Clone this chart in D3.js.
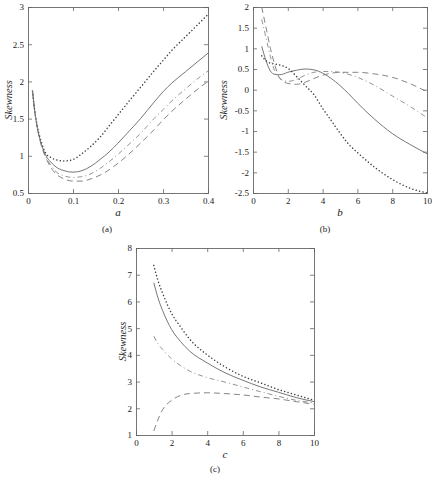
<!DOCTYPE html>
<html>
<head>
<meta charset="utf-8">
<script src="https://cdn.jsdelivr.net/npm/d3@7"></script>
<style>
body { margin: 0; background: #fff; }
svg text { font-family: "Liberation Serif", "Times New Roman", "DejaVu Serif", serif; fill: #222; }
</style>
</head>
<body>
<svg class="visSVG"></svg>
<script>
const svgWidth = 437;
const svgHeight = 477;

// panel (a)
var aX = [0.01, 0.015, 0.02, 0.03, 0.04, 0.05, 0.06, 0.08, 0.1, 0.12, 0.14, 0.16, 0.18, 0.2, 0.22, 0.25, 0.28, 0.3, 0.32, 0.35, 0.38, 0.4];
var aSolid   = [1.87, 1.6, 1.4, 1.15, 1.0, 0.92, 0.86, 0.8, 0.78, 0.8, 0.86, 0.95, 1.05, 1.17, 1.3, 1.5, 1.72, 1.86, 1.98, 2.13, 2.28, 2.38];
var aDotted  = [1.87, 1.6, 1.42, 1.18, 1.03, 0.98, 0.95, 0.93, 0.95, 1.03, 1.13, 1.25, 1.4, 1.55, 1.7, 1.92, 2.14, 2.28, 2.42, 2.6, 2.78, 2.9];
var aDashDot = [1.87, 1.6, 1.4, 1.14, 0.98, 0.88, 0.8, 0.73, 0.71, 0.72, 0.76, 0.83, 0.92, 1.02, 1.13, 1.3, 1.5, 1.62, 1.74, 1.9, 2.05, 2.14];
var aDashed  = [1.87, 1.6, 1.4, 1.13, 0.97, 0.85, 0.77, 0.69, 0.66, 0.66, 0.69, 0.74, 0.81, 0.9, 1.0, 1.17, 1.35, 1.48, 1.6, 1.76, 1.91, 2.0];
var aXTicks = [0, 0.1, 0.2, 0.3, 0.4];
var aYTicks = [0.5, 1, 1.5, 2, 2.5, 3];

// panel (b)
var bX = [0.5, 0.75, 1, 1.25, 1.5, 1.75, 2, 2.5, 3, 3.5, 4, 4.5, 5, 5.5, 6, 7, 8, 9, 10];
var bSolid   = [1.05, 0.7, 0.45, 0.37, 0.36, 0.38, 0.42, 0.47, 0.5, 0.48, 0.4, 0.27, 0.1, -0.1, -0.32, -0.72, -1.06, -1.32, -1.55];
var bDotted  = [0.82, 0.7, 0.64, 0.62, 0.6, 0.57, 0.52, 0.32, 0.1, -0.12, -0.45, -0.75, -1.05, -1.32, -1.52, -1.88, -2.17, -2.38, -2.5];
var bDashed  = [2.0, 1.5, 1.0, 0.6, 0.3, 0.2, 0.15, 0.13, 0.18, 0.27, 0.35, 0.4, 0.42, 0.42, 0.42, 0.38, 0.3, 0.15, -0.05];
var bDashDot = [1.7, 1.25, 0.8, 0.45, 0.3, 0.22, 0.2, 0.25, 0.35, 0.42, 0.44, 0.44, 0.42, 0.37, 0.3, 0.1, -0.15, -0.4, -0.68];
var bXTicks = [0, 2, 4, 6, 8, 10];
var bYTicks = [-2.5, -2, -1.5, -1, -0.5, 0, 0.5, 1, 1.5, 2];

// panel (c)
var cX = [1, 1.25, 1.5, 2, 2.5, 3, 4, 5, 6, 7, 8, 9, 10];
var cSolid   = [6.7, 6.1, 5.65, 4.95, 4.5, 4.15, 3.7, 3.33, 3.05, 2.8, 2.6, 2.4, 2.25];
var cDotted  = [7.35, 6.75, 6.3, 5.55, 5.05, 4.6, 4.0, 3.55, 3.2, 2.95, 2.7, 2.5, 2.3];
var cDashDot = [4.7, 4.4, 4.2, 3.85, 3.6, 3.4, 3.15, 2.98, 2.8, 2.62, 2.45, 2.3, 2.2];
var cDashed  = [1.15, 1.6, 1.95, 2.3, 2.48, 2.55, 2.58, 2.55, 2.5, 2.42, 2.35, 2.25, 2.15];
var cXTicks = [0, 2, 4, 6, 8, 10];
var cYTicks = [1, 2, 3, 4, 5, 6, 7, 8];

const serif = "Liberation Serif, Times New Roman, DejaVu Serif, serif";

const svg = d3.select('.visSVG')
    .attr("width", svgWidth)
    .attr("height", svgHeight);

var styles = {
    solid:   { dash: null,        width: 1.0, color: "#777" },
    dotted:  { dash: "0.1,3.4",   width: 1.5, color: "#444" },
    dashdot: { dash: "5,3,1,3",   width: 0.9, color: "#888" },
    dashed:  { dash: "6,4",       width: 0.9, color: "#777" }
};

function panel(cfg) {
    var g = svg.append("g")
        .attr("transform", "translate(" + cfg.left + "," + cfg.top + ")");

    var w = cfg.width, h = cfg.height;

    var xScale = d3.scaleLinear().domain(cfg.xDomain).range([0, w]);
    var yScale = d3.scaleLinear().domain(cfg.yDomain).range([h, 0]);

    // axes with inward ticks on all four sides (matlab look)
    var fmt = function(d) { return String(d); };
    g.append("g").attr("transform", "translate(0," + h + ")")
        .call(d3.axisBottom(xScale).tickValues(cfg.xTicks).tickSize(-4).tickPadding(5).tickFormat(fmt));
    g.append("g")
        .call(d3.axisLeft(yScale).tickValues(cfg.yTicks).tickSize(-4).tickPadding(4).tickFormat(fmt));
    g.append("g")
        .call(d3.axisTop(xScale).tickValues(cfg.xTicks).tickSize(-4).tickFormat(""));
    g.append("g").attr("transform", "translate(" + w + ",0)")
        .call(d3.axisRight(yScale).tickValues(cfg.yTicks).tickSize(-4).tickFormat(""));

    g.selectAll("g").attr("font-family", serif);
    g.selectAll(".domain").attr("stroke", "#666").attr("stroke-width", 0.9);
    g.selectAll(".tick line").attr("stroke", "#666").attr("stroke-width", 0.8);
    g.selectAll(".tick text")
        .attr("font-family", serif)
        .style("font-size", "9px")
        .attr("fill", "#222");

    // curves
    var line = d3.line()
        .x(function(d) { return xScale(d[0]); })
        .y(function(d) { return yScale(d[1]); })
        .curve(d3.curveMonotoneX);

    cfg.series.forEach(function(s) {
        var st = styles[s.style];
        var pts = cfg.xs.map(function(x, i) { return [x, s.values[i]]; });
        g.append("path")
            .datum(pts)
            .attr("d", line)
            .attr("fill", "none")
            .attr("stroke", st.color)
            .attr("stroke-width", st.width)
            .attr("stroke-linecap", s.style == "dotted" ? "round" : "butt")
            .attr("stroke-dasharray", st.dash);
    });

    // labels
    g.append("text")
        .text(cfg.xLabel)
        .attr("x", w / 2)
        .attr("y", h + 23)
        .attr("text-anchor", "middle")
        .attr("font-family", serif)
        .style("font-style", "italic")
        .style("font-size", "11px");

    g.append("text")
        .text("Skewness")
        .attr("transform", "translate(" + cfg.yLabelX + "," + (h / 2) + ") rotate(-90)")
        .attr("text-anchor", "middle")
        .attr("dy", "0.35em")
        .attr("font-family", serif)
        .style("font-style", "italic")
        .style("font-size", "10.5px");

    svg.append("text")
        .text(cfg.caption)
        .attr("x", cfg.captionX)
        .attr("y", cfg.captionY)
        .attr("text-anchor", "middle")
        .attr("font-family", serif)
        .style("font-size", "9px");
}

panel({
    left: 28, top: 7, width: 180, height: 186,
    xDomain: [0, 0.4], yDomain: [0.5, 3],
    xTicks: aXTicks, yTicks: aYTicks,
    xs: aX,
    series: [
        { style: "solid", values: aSolid },
        { style: "dotted", values: aDotted },
        { style: "dashdot", values: aDashDot },
        { style: "dashed", values: aDashed }
    ],
    xLabel: "a", yLabelX: -20,
    caption: "(a)", captionX: 107, captionY: 232
});

panel({
    left: 253, top: 7, width: 174, height: 186,
    xDomain: [0, 10], yDomain: [-2.5, 2],
    xTicks: bXTicks, yTicks: bYTicks,
    xs: bX,
    series: [
        { style: "solid", values: bSolid },
        { style: "dotted", values: bDotted },
        { style: "dashed", values: bDashed },
        { style: "dashdot", values: bDashDot }
    ],
    xLabel: "b", yLabelX: -30,
    caption: "(b)", captionX: 325, captionY: 232
});

panel({
    left: 136, top: 248, width: 178, height: 187,
    xDomain: [0, 10], yDomain: [1, 8],
    xTicks: cXTicks, yTicks: cYTicks,
    xs: cX,
    series: [
        { style: "solid", values: cSolid },
        { style: "dotted", values: cDotted },
        { style: "dashdot", values: cDashDot },
        { style: "dashed", values: cDashed }
    ],
    xLabel: "c", yLabelX: -14,
    caption: "(c)", captionX: 215, captionY: 472
});
</script>
</body>
</html>
